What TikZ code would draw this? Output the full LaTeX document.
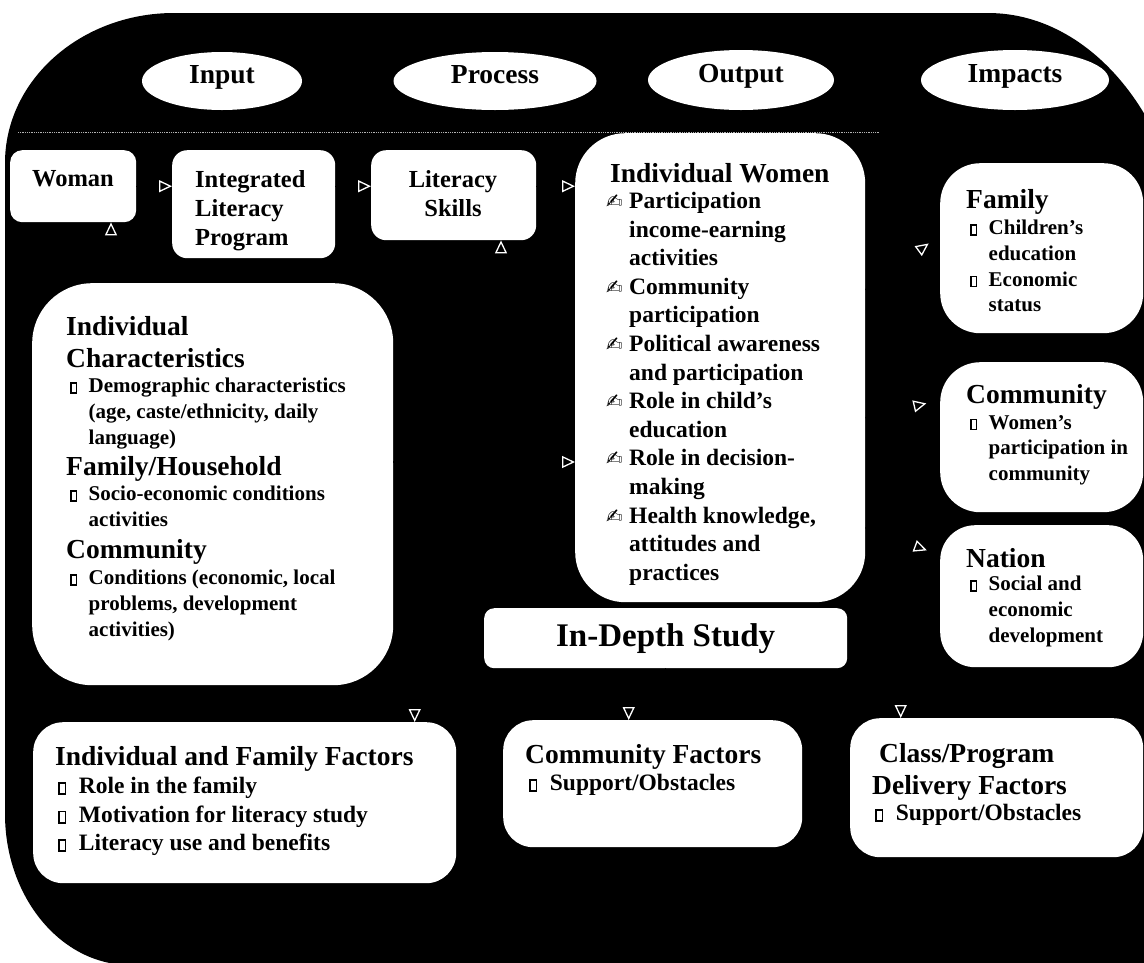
\documentclass[tikz,border=0pt]{standalone}
\usepackage{fontspec}
\setmainfont{Liberation Serif}
\newfontfamily\symfont{DejaVu Sans}
\usetikzlibrary{positioning}
\usetikzlibrary{shapes.geometric}
\usetikzlibrary{arrows.meta}

\newcommand{\sizeHead}{\fontsize{27.5}{32}\selectfont\bfseries}
\newcommand{\sizeMid}{\fontsize{24.5}{29}\selectfont\bfseries}
\newcommand{\sizeBody}{\fontsize{23.5}{28.6}\selectfont\bfseries}
\newcommand{\sizeSmall}{\fontsize{21}{25.7}\selectfont\bfseries}
\newcommand{\sizeBig}{\fontsize{33}{38}\selectfont\bfseries}
\newcommand{\boxmark}{\raisebox{0.02em}{\fboxsep=0pt\fboxrule=0.07em\fbox{\rule{0pt}{0.4em}\hspace{0.2em}}}}
\newcommand{\bul}{\makebox[0.88em][l]{\boxmark}}
\newcommand{\skipBox}{\hspace*{0.88em}}
\newcommand{\penmark}{\makebox[0.98em][l]{\scalebox{0.85}{\symfont\mdseries ✍}}}
\newcommand{\skipPen}{\hspace*{0.98em}}

\begin{document}
\begin{tikzpicture}[x=1pt, y=-1pt]

          \tikzstyle{stageNode} = [ellipse, fill=white, inner sep=0pt, font=\sizeHead, text height=0.68em, text depth=0.2em];
          \tikzstyle{boxNode} = [fill=white, inner sep=0pt, anchor=north west];
          \tikzstyle{textNode} = [inner sep=0pt, anchor=north west, align=left];
          \tikzstyle{flowEdge} = [line width=1.3pt, black, -{Triangle[open, color=white, length=13pt, width=12pt]}];

          \useasboundingbox (0,0) rectangle (1144,962);
          \fill[white] (0,0) rectangle (1144,962);
          \clip (0,0) rectangle (1144,962);

          % black frame
          \fill[black] (5,163) .. controls (5,80) and (81,13) .. (174,13) -- (988,13)
            .. controls (1098,13) and (1188,133) .. (1188,280) -- (1188,965) -- (130,965)
            .. controls (61,965) and (5,897) .. (5,814) -- cycle;
          \draw[gray!60, densely dotted, line width=0.8pt] (18,132) -- (880,132);

          % stages
          \node[stageNode, minimum width=160pt, minimum height=58pt] (input) at (222,81) {Input};
          \node[stageNode, minimum width=203pt, minimum height=58pt] (process) at (495,81) {Process};
          \node[stageNode, minimum width=186pt, minimum height=60pt] (output) at (741,80) {Output};
          \node[stageNode, minimum width=188pt, minimum height=60pt] (impacts) at (1015,80) {Impacts};

          % boxes
          \node[boxNode, minimum width=126pt, minimum height=72pt, rounded corners=12pt] (woman) at (10,150) {};
          \node[boxNode, minimum width=163pt, minimum height=108pt, rounded corners=15pt] (ilp) at (172,150) {};
          \node[boxNode, minimum width=165pt, minimum height=90pt, rounded corners=15pt] (skills) at (371,150) {};
          \node[boxNode, minimum width=361pt, minimum height=402pt, rounded corners=60pt] (charac) at (32,283) {};
          \node[boxNode, minimum width=290pt, minimum height=469pt, rounded corners=50pt] (women) at (575,133) {};
          \node[boxNode, minimum width=203pt, minimum height=170pt, rounded corners=40pt] (family) at (940,163) {};
          \node[boxNode, minimum width=203pt, minimum height=150pt, rounded corners=40pt] (impCommunity) at (940,362) {};
          \node[boxNode, minimum width=203pt, minimum height=142pt, rounded corners=35pt] (nation) at (940,525) {};
          \node[boxNode, minimum width=363pt, minimum height=60pt, rounded corners=10pt, font=\sizeBig] (study) at (484,608) {In-Depth Study};
          \node[boxNode, minimum width=423pt, minimum height=161pt, rounded corners=30pt] (indFamily) at (33,722) {};
          \node[boxNode, minimum width=299pt, minimum height=127pt, rounded corners=30pt] (commFactors) at (503,720) {};
          \node[boxNode, minimum width=293pt, minimum height=139pt, rounded corners=30pt] (classFactors) at (850,718) {};

          % texts
          \node[textNode, anchor=north, align=center, font=\sizeMid] (womanText) at (73,170) {Woman};
          \node[textNode, font=\sizeMid] (ilpText) at (195,170) {Integrated\\Literacy\\Program};
          \node[textNode, anchor=north, align=center, font=\sizeMid] (skillsText) at (453,170) {Literacy\\Skills};

          \node[textNode, font=\sizeHead] (charTitle) at (66,316) {Individual\\Characteristics};
          \node[textNode, font=\sizeSmall] (charList) at (70,378) {\bul Demographic characteristics\\ \skipBox (age, caste/ethnicity, daily\\ \skipBox language)};
          \node[textNode, font=\sizeHead] (houseTitle) at (66,456) {Family/Household};
          \node[textNode, font=\sizeSmall] (houseList) at (70,486) {\bul Socio-economic conditions\\ \skipBox activities};
          \node[textNode, font=\sizeHead] (villageTitle) at (66,539) {Community};
          \node[textNode, font=\sizeSmall] (villageList) at (70,570) {\bul Conditions (economic, local\\ \skipBox problems, development\\ \skipBox activities)};

          \node[textNode, font=\sizeHead] (womenTitle) at (610,163) {Individual Women};
          \node[textNode, font=\sizeBody] (womenList) at (606,192) {\penmark Participation\\ \skipPen income-earning\\ \skipPen activities\\ \penmark Community\\ \skipPen participation\\ \penmark Political awareness\\ \skipPen and participation\\ \penmark Role in child’s\\ \skipPen education\\ \penmark Role in decision-\\ \skipPen making\\ \penmark Health knowledge,\\ \skipPen attitudes and\\ \skipPen practices};

          \node[textNode, font=\sizeHead] (familyTitle) at (966,189) {Family};
          \node[textNode, font=\sizeSmall] (familyList) at (970,220) {\bul Children’s\\ \skipBox education\\ \bul Economic\\ \skipBox status};
          \node[textNode, font=\sizeHead] (impCommTitle) at (966,384) {Community};
          \node[textNode, font=\sizeSmall] (impCommList) at (970,415) {\bul Women’s\\ \skipBox participation in\\ \skipBox community};
          \node[textNode, font=\sizeHead] (nationTitle) at (966,548) {Nation};
          \node[textNode, font=\sizeSmall] (nationList) at (970,576) {\bul Social and\\ \skipBox economic\\ \skipBox development};

          \node[textNode, font=\sizeHead] (indFamTitle) at (55,746) {Individual and Family Factors};
          \node[textNode, font=\sizeBody] (indFamList) at (58,777) {\bul Role in the family\\ \bul Motivation for literacy study\\ \bul Literacy use and benefits};
          \node[textNode, font=\sizeHead] (commFacTitle) at (525,744) {Community Factors};
          \node[textNode, font=\sizeBody] (commFacList) at (529,774) {\bul Support/Obstacles};
          \node[textNode, font=\sizeHead] (classTitle) at (872,743) {\hspace*{7pt}Class/Program\\Delivery Factors};
          \node[textNode, font=\sizeBody] (classList) at (875,804) {\bul Support/Obstacles};

          % connectors
          \coordinate (charUp) at (111,283);
          \coordinate (branch) at (501,462);

          \draw[flowEdge] (woman.east) -- (woman.east -| ilp.west);
          \draw[flowEdge] (ilp.east |- woman.east) -- (skills.west |- woman.east);
          \draw[flowEdge] (skills.east |- woman.east) -- (women.west |- woman.east);
          \draw[flowEdge] (charUp) -- (charUp |- woman.south);
          \draw[flowEdge] (charac.east |- branch) -- (women.west |- branch);
          \draw[flowEdge] (branch) -- (branch |- skills.south);

          \draw[flowEdge, shorten >=14pt] ([shift={(0,-78)}]women.east) -- ([shift={(0,-13)}]family.west);
          \draw[flowEdge, shorten >=14pt] ([shift={(0,50)}]women.east) -- ([shift={(0,-37)}]impCommunity.west);
          \draw[flowEdge, shorten >=14pt] ([shift={(0,160)}]women.east) -- ([shift={(0,-41)}]nation.west);

          \draw[flowEdge] (study.south) -- ++(0,22) -| ([shift={(170,0)}]indFamily.north);
          \draw[flowEdge] (study.south) -- ++(0,22) -| ([shift={(-24,0)}]commFactors.north);
          \draw[flowEdge] (study.south) -- ++(0,22) -| ([shift={(-96,0)}]classFactors.north);
        \end{tikzpicture}
\end{document}
